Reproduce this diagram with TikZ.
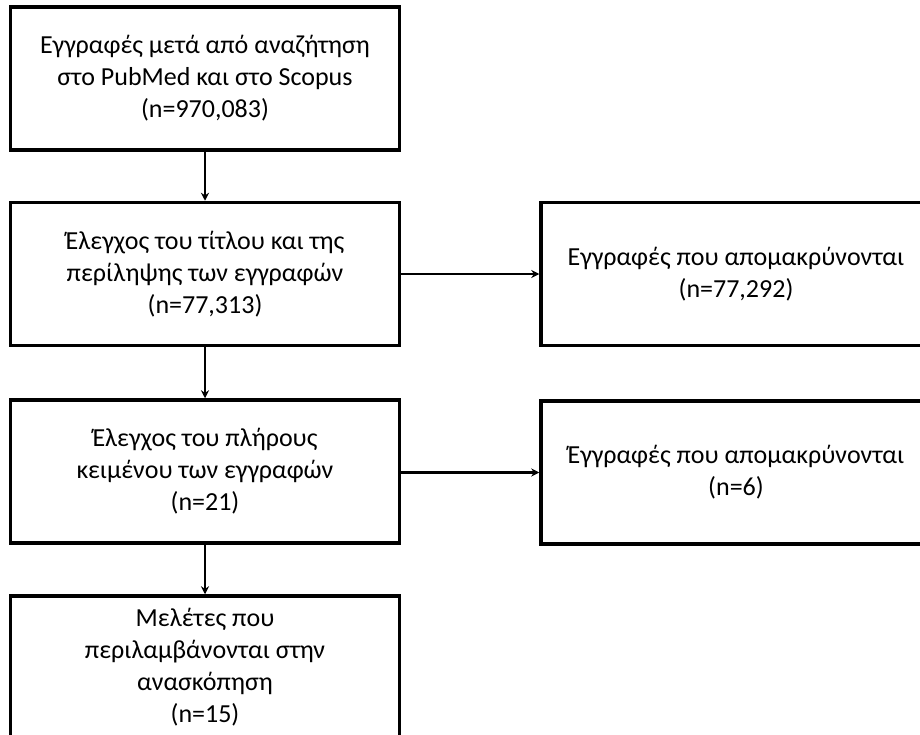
\documentclass[tikz,border=0pt]{standalone}
\usepackage{fontspec}
\setmainfont{Carlito}
\usetikzlibrary{arrows.meta}
\begin{document}
\begin{tikzpicture}[x=1pt,y=-1pt,
  box/.style={draw=black,line width=3.5pt,rectangle,minimum width=389pt,minimum height=143pt,inner sep=0pt,align=center,font=\fontsize{26}{32}\selectfont},
  rbox/.style={box,minimum width=390pt},
  arr/.style={draw=black,line width=2.5pt,-{Stealth[length=8pt,width=8pt]}}]
\clip (0,0) rectangle (920,735);
\fill[white] (0,0) rectangle (920,735);
\node[box] (b1) at (205,78.5) {Εγγραφές μετά από αναζήτηση\\στο PubMed και στο Scopus\\(n=970,083)};
\node[box] (b2) at (205,274) {Έλεγχος του τίτλου και της\\περίληψης των εγγραφών\\(n=77,313)};
\node[box] (b3) at (205,471.5) {Έλεγχος του πλήρους\\κειμένου των εγγραφών\\(n=21)};
\node[box] (b4) at (205,667.5) {Μελέτες που\\περιλαμβάνονται στην\\ανασκόπηση\\(n=15)};
\node[rbox] (r1) at (736,274) {Εγγραφές που απομακρύνονται\\(n=77,292)};
\node[rbox] (r2) at (736,472.5) {Έγγραφές που απομακρύνονται\\(n=6)};
\draw[arr] (b1) -- (b2);
\draw[arr] (b2) -- (b3);
\draw[arr] (b3) -- (b4);
\draw[arr] (b2) -- (r1);
\draw[arr] (b3.east |- r2) -- (r2);
\end{tikzpicture}
\end{document}
